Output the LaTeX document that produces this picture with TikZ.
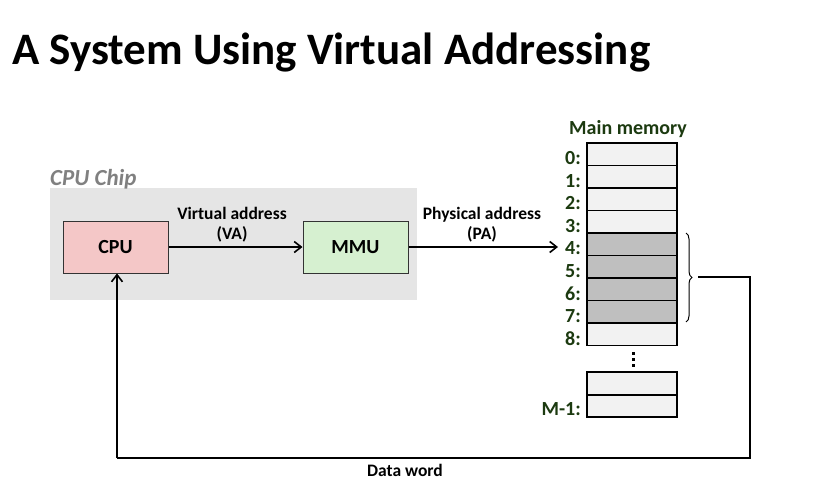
\documentclass[tikz,border=0pt]{standalone}
\usepackage{fontspec}
\setmainfont{Carlito}
\usetikzlibrary{arrows.meta,decorations.pathreplacing}
\definecolor{chipgray}{RGB}{229,229,229}
\definecolor{cpupink}{RGB}{244,199,199}
\definecolor{mmugreen}{RGB}{214,240,208}
\definecolor{cellfill}{RGB}{242,242,242}
\definecolor{cellshade}{RGB}{191,191,191}
\definecolor{labgreen}{RGB}{28,58,16}
\definecolor{chiptext}{RGB}{128,128,128}
\tikzset{
  unitbox/.style={draw=black!80, line width=1pt, minimum width=105pt, minimum height=52pt, inner sep=0pt, font=\fontsize{20}{22}\selectfont\bfseries},
  cell/.style={draw=black, line width=1.6pt, minimum width=90pt, minimum height=22.5pt, inner sep=0pt},
  addr/.style={anchor=east, text=labgreen, inner sep=0pt, font=\fontsize{20}{22}\selectfont\bfseries},
  lab/.style={font=\fontsize{17.5}{20}\selectfont\bfseries, align=center, inner sep=0pt},
  conn/.style={line width=1.6pt, -{Straight Barb[length=7pt,width=11pt,line width=1.6pt]}},
  wire/.style={line width=1.6pt},
  dot/.style={fill=black, inner sep=0pt, minimum size=3pt}
}
\begin{document}
\begin{tikzpicture}[x=1pt,y=-1pt]
\useasboundingbox (0,0) rectangle (835,490);
\node[anchor=base west, inner sep=0pt, font=\fontsize{45}{50}\selectfont\bfseries] (title) at (12,64) {A System Using Virtual Addressing};
% CPU chip
\node[fill=chipgray, minimum width=367pt, minimum height=112pt, inner sep=0pt] (chip) at (233.5,244) {};
\node[anchor=base west, inner sep=0pt, text=chiptext, font=\fontsize{23}{25}\selectfont\bfseries\itshape] (chiplab) at (50,185) {CPU Chip};
\node[unitbox, fill=cpupink] (cpu) at (115.5,247) {CPU};
\node[unitbox, fill=mmugreen] (mmu) at (355.5,247) {MMU};
\draw[conn] (cpu.east) -- (mmu.west);
\node[lab] (va) at (232,225) {Virtual address\\(VA)};
% memory
\node[anchor=south, inner sep=0pt, text=labgreen, font=\fontsize{20}{22}\selectfont\bfseries] (mmtitle) at (628,138) {Main memory};
\foreach \i in {0,...,8} {
  \pgfmathsetmacro{\yy}{143+22.5*\i+11.25}
  \ifnum\i>3 \ifnum\i<8
    \node[cell, fill=cellshade] (c\i) at (632,\yy) {};
  \else
    \node[cell, fill=cellfill] (c\i) at (632,\yy) {};
  \fi\else
    \node[cell, fill=cellfill] (c\i) at (632,\yy) {};
  \fi
  \node[addr] (a\i) at (581,\yy+4) {\i:};
}
\node[cell, fill=cellfill] (cm2) at (632,383.5) {};
\node[cell, fill=cellfill] (cm1) at (632,406) {};
\node[addr] (am1) at (581,409) {M-1:};
\node[dot] (d1) at (633,353) {};
\node[dot] (d2) at (633,359) {};
\node[dot] (d3) at (633,365) {};
% physical address
\coordinate (paend) at (558,247);
\draw[conn] (mmu.east) -- (paend);
\node[lab] (pa) at (482,225) {Physical address\\(PA)};
% brace
\draw[line width=1pt, decorate, decoration={brace, amplitude=6pt}] (686,233) -- (686,322);
\coordinate (w1) at (698,277);
\coordinate (w2) at (750,277);
\coordinate (w3) at (750,458);
\coordinate (w4) at (117,458);
\draw[wire] (w1) -- (w2) -- (w3) -- (w4);
\draw[conn] (w4) -- (cpu.south -| w4);
\node[lab, anchor=base] (dw) at (405,476) {Data word};
\end{tikzpicture}
\end{document}
